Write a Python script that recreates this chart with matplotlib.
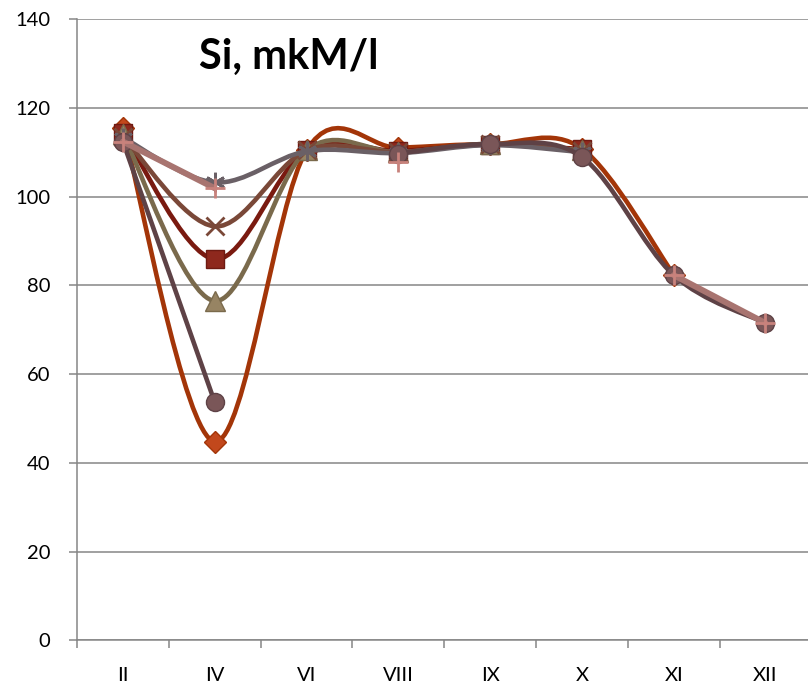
import matplotlib
matplotlib.use("Agg")
import matplotlib.pyplot as plt
from matplotlib.path import Path
from matplotlib.patches import PathPatch
import numpy as np

plt.rcParams['font.family'] = ['Lato', 'DejaVu Sans']

# months (roman numerals) on the category axis
months = ['II', 'IV', 'VI', 'VIII', 'IX', 'X', 'XI', 'XII']

# Si, mkM/l per station / series, None = no measurement
s_diamond = [115.5, 44.8, 110.4, 111.0, 111.8, 110.8, 82.4, None]
s_square = [114.4, 85.9, 110.4, 110.3, 111.7, 110.7, None, None]
s_triangle = [114.0, 76.5, 110.4, 110.0, 111.9, 110.4, None, None]
s_cross = [113.5, 93.3, 110.4, 110.0, 111.8, 110.2, None, None]
s_star = [113.3, 103.2, 110.2, 109.8, 111.6, 110.0, None, None]
s_circle = [112.4, 53.7, None, 109.7, 111.8, 108.9, 82.3, 71.5]
s_plus = [112.4, 101.9, None, 107.9, None, None, 82.3, 71.5]

styles = [
    (s_diamond, '#A33508', 'D', '#C2481C', '#A33508', 3.3, 11),
    (s_square, '#7A1A10', 's', '#8E281D', '#6E1A12', 3.3, 13),
    (s_triangle, '#7A6A4C', '^', '#978463', '#7A6A4C', 3.3, 14),
    (s_cross, '#7A4838', 'x', 'none', '#7A4838', 3.3, 13),
    (s_star, '#6A6066', (6, 2, 0), 'none', '#6A6066', 3.3, 14),
    (s_circle, '#5E4246', 'o', '#7A5658', '#5E4246', 3.3, 13),
    (s_plus, '#A87470', '+', 'none', '#C8827C', 4.3, 14),
]


def smooth_runs(vals):
    # split at gaps, Excel-like smoothed bezier through each run
    runs, cur = [], []
    for i, v in enumerate(vals):
        if v is None:
            if cur:
                runs.append(cur)
            cur = []
        else:
            cur.append((i, v))
    if cur:
        runs.append(cur)
    paths = []
    for run in runs:
        if len(run) < 2:
            continue
        pts = np.array(run, dtype=float)
        n = len(pts)
        verts = [pts[0]]
        codes = [Path.MOVETO]
        for k in range(n - 1):
            p0 = pts[k - 1] if k > 0 else pts[k]
            p1 = pts[k]
            p2 = pts[k + 1]
            p3 = pts[k + 2] if k + 2 < n else pts[k + 1]
            c1 = p1 + (p2 - p0) / 6.0
            c2 = p2 - (p3 - p1) / 6.0
            verts += [c1, c2, p2]
            codes += [Path.CURVE4] * 3
        paths.append(Path(verts, codes))
    return paths


fig = plt.figure(figsize=(8.08, 6.87), dpi=100)
ax = fig.add_axes([0.0953, 0.0677, 0.9047, 0.9046])

x = np.arange(len(months))
for z, (vals, lc, mk, mfc, mec, lw, ms) in enumerate(styles):
    for p in smooth_runs(vals):
        ax.add_patch(PathPatch(p, facecolor='none', edgecolor=lc, lw=lw,
                               capstyle='round', joinstyle='round', zorder=3 + z))
    xs = [xi for xi, v in zip(x, vals) if v is not None]
    ys = [v for v in vals if v is not None]
    mew = 2.0 if mfc == 'none' else 1.0
    ax.plot(xs, ys, linestyle='none', marker=mk, markersize=ms,
            markerfacecolor=mfc, markeredgecolor=mec, markeredgewidth=mew,
            zorder=3 + z)

ax.set_xlim(-0.5, 7.463)
ax.set_ylim(0, 140)
ax.set_yticks(np.arange(0, 141, 20))
ax.set_xticks(x)
ax.set_xticklabels(months)
ax.set_xticks(np.arange(-0.5, 7.5, 1), minor=True)

ax.grid(axis='y', color='#868686', lw=1.1, zorder=1)
ax.set_axisbelow(True)
for side in ['top', 'right']:
    ax.spines[side].set_visible(False)
for side in ['left', 'bottom']:
    ax.spines[side].set_color('#868686')
    ax.spines[side].set_linewidth(1.1)

ax.tick_params(axis='y', length=6, width=1.1, color='#868686', pad=13,
               labelsize=14.5)
ax.tick_params(axis='x', which='major', length=0, pad=19, labelsize=14.5)
ax.tick_params(axis='x', which='minor', length=6, width=1.1, color='#868686')

fig.text(0.2465, 0.917, 'Si, mkM/l', fontsize=30, fontweight='bold',
         va='center', ha='left')

fig.savefig('out.png', dpi=100)
